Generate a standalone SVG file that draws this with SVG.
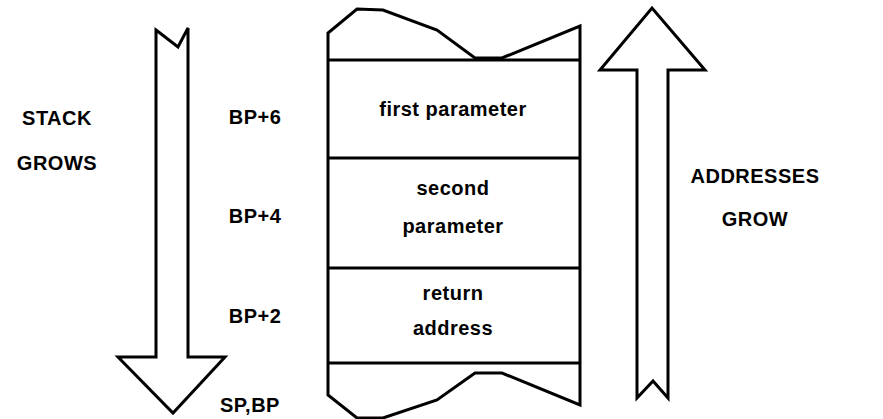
<svg xmlns="http://www.w3.org/2000/svg" width="883" height="419" viewBox="0 0 883 419">
<style>
.s{fill:none;stroke:#000;stroke-width:3;stroke-linejoin:miter}
.t{font-family:"Liberation Sans",Arial,sans-serif;font-size:20px;font-weight:bold;letter-spacing:0.5px;fill:#000;text-anchor:middle}
</style>
<rect width="883" height="419" fill="#fff"/>
<g id="stack-grows-arrow">
<path class="s" d="M156,30 L178,47 L188,28 L188,357 L225,357 L173,413 L118,357 L156,357 Z"/>
</g>
<g id="addresses-grow-arrow">
<path class="s" d="M637,398 L653,381 L668,398 L668,70 L705,70 L652,8 L600,70 L637,70 Z"/>
</g>
<g id="stack-frame">
<path class="s" d="M328,395 L328,33 L357,9 L383,10 L437,30 L475,58 L502,58 L580,26 L580,405 L502,373 L475,373 L437,400 L383,418 L357,418 Z"/>
<line class="s" x1="328" y1="60" x2="580" y2="60"/>
<line class="s" x1="328" y1="158" x2="580" y2="158"/>
<line class="s" x1="328" y1="268" x2="580" y2="268"/>
<line class="s" x1="328" y1="363" x2="580" y2="363"/>
</g>
<g id="labels">
<text class="t" x="57" y="125">STACK</text>
<text class="t" x="57" y="170">GROWS</text>
<text class="t" x="255" y="124">BP+6</text>
<text class="t" x="255" y="223">BP+4</text>
<text class="t" x="255" y="323">BP+2</text>
<text class="t" x="250" y="412">SP,BP</text>
<text class="t" x="453" y="116">first parameter</text>
<text class="t" x="453" y="195">second</text>
<text class="t" x="453" y="233">parameter</text>
<text class="t" x="453" y="300">return</text>
<text class="t" x="453" y="335">address</text>
<text class="t" x="755" y="183">ADDRESSES</text>
<text class="t" x="755" y="226">GROW</text>
</g>
</svg>
